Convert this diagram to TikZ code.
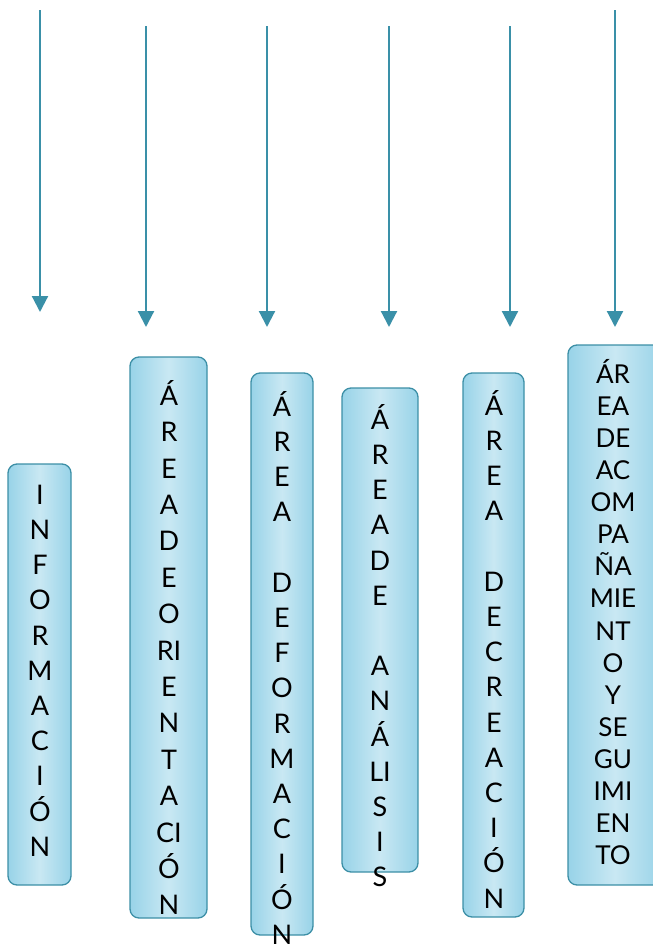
\documentclass[tikz,border=0pt]{standalone}
\usepackage{fontspec}
\setmainfont{Lato}
\usetikzlibrary{arrows.meta}
\definecolor{arrowc}{HTML}{3A90A8}
\definecolor{boxline}{HTML}{3C8FA6}
\definecolor{boxedge}{HTML}{98D3E8}
\definecolor{boxmid}{HTML}{C9E8F3}
\begin{document}
\begin{tikzpicture}[x=1pt,y=-1pt,
  areabox/.style={draw=boxline, line width=1.3pt, rounded corners=9pt,
    left color=boxedge, right color=boxedge, middle color=boxmid, inner sep=0pt},
  vtext/.style={anchor=north, inner sep=0pt, align=center,
    font=\fontsize{27}{35.2}\selectfont},
  vtextwide/.style={anchor=north, inner sep=0pt, align=center,
    font=\fontsize{27}{36.4}\selectfont},
  vtextsmall/.style={anchor=north, inner sep=0pt, align=center,
    font=\fontsize{26}{32.1}\selectfont},
  flecha/.style={draw=arrowc, line width=2.2pt, -{Triangle[width=16pt,length=16pt]}}]
\useasboundingbox (0,0) rectangle (653,946);
\clip (0,0) rectangle (653,946);

% arrows
\coordinate (a1s) at (40,10);  \coordinate (a1e) at (40,312);
\coordinate (a2s) at (146,26); \coordinate (a2e) at (146,327);
\coordinate (a3s) at (267,26); \coordinate (a3e) at (267,327);
\coordinate (a4s) at (389,26); \coordinate (a4e) at (389,327);
\coordinate (a5s) at (510,26); \coordinate (a5e) at (510,327);
\coordinate (a6s) at (615,10); \coordinate (a6e) at (615,327);
\foreach \i in {1,...,6} \draw[flecha] (a\i s) -- (a\i e);

% boxes
\node[areabox, minimum width=63pt, minimum height=421pt] (b1) at (39.5,674.5) {};
\node[areabox, minimum width=77pt, minimum height=561pt] (b2) at (168.5,637.5) {};
\node[areabox, minimum width=62pt, minimum height=562pt] (b3) at (282,654) {};
\node[areabox, minimum width=76pt, minimum height=484pt] (b4) at (380,630) {};
\node[areabox, minimum width=61pt, minimum height=544pt] (b5) at (493.5,645) {};
\node[areabox, minimum width=94pt, minimum height=540pt] (b6) at (615,615) {};

% texts
\node[vtext] (t1) at (40,474) {\rule{0pt}{30pt}I\\N\\F\\O\\R\\M\\A\\C\\I\\Ó\\N};
\node[vtextwide] (t2) at (169,375) {\rule{0pt}{30pt}Á\\R\\E\\A\\D\\E\\O\\RI\\E\\N\\T\\A\\CI\\Ó\\N};
\node[vtext] (t3) at (282,386) {\rule{0pt}{30pt}Á\\R\\E\\A\\\mbox{}\\D\\E\\F\\O\\R\\M\\A\\C\\I\\Ó\\N};
\node[vtext] (t4) at (380,399) {\rule{0pt}{30pt}Á\\R\\E\\A\\D\\E\\\mbox{}\\A\\N\\Á\\LI\\S\\I\\S};
\node[vtext] (t5) at (494,385) {\rule{0pt}{30pt}Á\\R\\E\\A\\\mbox{}\\D\\E\\C\\R\\E\\A\\C\\I\\Ó\\N};
\node[vtextsmall] (t6) at (613,353) {\rule{0pt}{30pt}ÁR\\EA\\DE\\AC\\OM\\PA\\ÑA\\MIE\\NT\\O\\Y\\SE\\GU\\IMI\\EN\\TO};
\end{tikzpicture}
\end{document}
